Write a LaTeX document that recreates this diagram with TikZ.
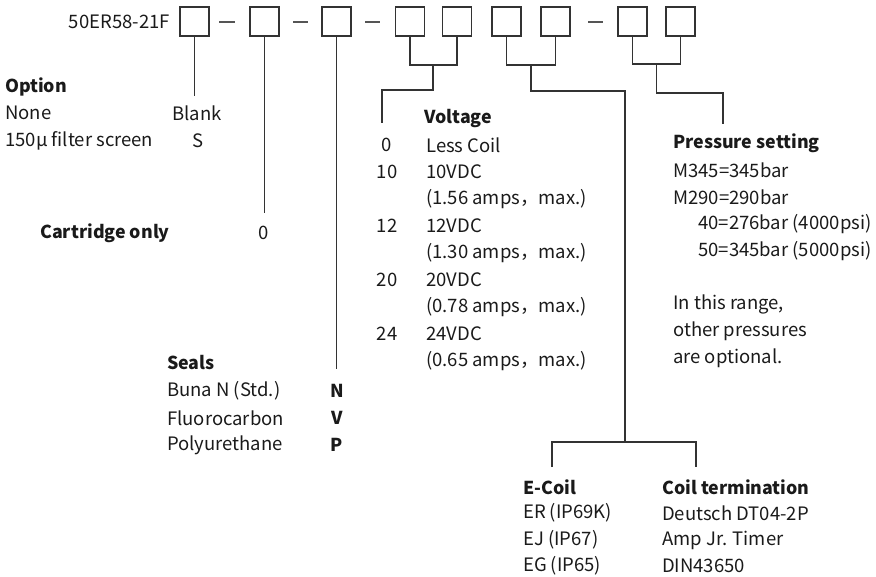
\documentclass[tikz,border=0pt]{standalone}
\usepackage{fontspec}
\setmainfont{Noto Sans CJK SC}
\begin{document}
\begin{tikzpicture}[x=1pt,y=-1pt,
  box/.style={draw=linec,line width=1.4pt,minimum size=29pt,inner sep=0pt},
  conn/.style={draw=linec,line width=1.3pt},
  dashln/.style={draw=dashc,line width=1.8pt},
  txt/.style={anchor=west,inner sep=0pt,text=txtc,font=\fontsize{18.5}{20}\selectfont},
  txtc/.style={anchor=center,inner sep=0pt,text=txtc,font=\fontsize{18.5}{20}\selectfont},
  hd/.style={txt,font=\fontsize{17.8}{20}\selectfont\bfseries},
  hdc/.style={txtc,font=\fontsize{17.8}{20}\selectfont\bfseries}]
\definecolor{linec}{HTML}{333333}
\definecolor{dashc}{HTML}{555555}
\definecolor{txtc}{HTML}{1A1A1A}
\useasboundingbox (0,0) rectangle (876,577);
% boxes
\node[box] (b1) at (194.5,21.5) {};
\node[box] (b2) at (264.5,21.5) {};
\node[box] (b3) at (336.5,21.5) {};
\node[box] (b4) at (410,21.5) {};
\node[box] (b5) at (457,21.5) {};
\node[box] (b6) at (506.5,21.5) {};
\node[box] (b7) at (555.5,21.5) {};
\node[box] (b8) at (632.5,21.5) {};
\node[box] (b9) at (680.5,21.5) {};
\node[anchor=east,inner sep=0pt,text=txtc,font=\fontsize{18.5}{20}\selectfont] (code) at (170,22) {50ER58-21F};
% dashes
\draw[dashln] (219,22) -- (235,22);
\draw[dashln] (293,22) -- (308,22);
\draw[dashln] (365,22) -- (380,22);
\draw[dashln] (588,22) -- (603,22);
% connector end coordinates
\coordinate (e1) at (194.5,96);
\coordinate (e2) at (264.5,213);
\coordinate (e3) at (336.5,369);
\coordinate (j45) at (433,65);
\coordinate (k45) at (433,90);
\coordinate (l45) at (382,90);
\coordinate (e45) at (382,123);
\coordinate (j67) at (531,65);
\coordinate (k67) at (531,91);
\coordinate (l67) at (625,91);
\coordinate (s67) at (625,442);
\coordinate (sl) at (552,442);
\coordinate (sr) at (696,442);
\coordinate (el) at (552,467);
\coordinate (er) at (696,467);
\coordinate (j89) at (656.5,64);
\coordinate (k89) at (656.5,93);
\coordinate (l89) at (723,93);
\coordinate (e89) at (723,124);
% connectors
\draw[conn] (b1.south) -- (e1);
\draw[conn] (b2.south) -- (e2);
\draw[conn] (b3.south) -- (e3);
\draw[conn] (b4.south) -- (b4.south |- j45) -- (b5.south |- j45) -- (b5.south);
\draw[conn] (j45) -- (k45) -- (l45) -- (e45);
\draw[conn] (b6.south) -- (b6.south |- j67) -- (b7.south |- j67) -- (b7.south);
\draw[conn] (j67) -- (k67) -- (l67) -- (s67);
\draw[conn] (el) -- (sl) -- (sr) -- (er);
\draw[conn] (b8.south) -- (b8.south |- j89) -- (b9.south |- j89) -- (b9.south);
\draw[conn] (j89) -- (k89) -- (l89) -- (e89);
% Option
\node[hd] (opt) at (5,87) {Option};
\node[txt] (none) at (5,113) {None};
\node[txtc] (blank) at (197,113) {Blank};
\node[txt] (filt) at (5,141) {150µ filter screen};
\node[txtc] (s) at (198,141) {S};
% Cartridge
\node[hd] (cart) at (40,233) {Cartridge only};
\node[txtc] (zero) at (264,233) {0};
% Voltage
\node[hd] (volt) at (424,119) {Voltage};
\node[txtc] (v0) at (387,145) {0};
\node[txt] (v0t) at (426,145) {Less Coil};
\node[txtc] (v10) at (387,172) {10};
\node[txt] (v10t) at (426,172) {10VDC};
\node[txt] (v10a) at (426,199) {(1.56 amps，max.)};
\node[txtc] (v12) at (387,226) {12};
\node[txt] (v12t) at (426,226) {12VDC};
\node[txt] (v12a) at (426,253) {(1.30 amps，max.)};
\node[txtc] (v20) at (387,280) {20};
\node[txt] (v20t) at (426,280) {20VDC};
\node[txt] (v20a) at (426,307) {(0.78 amps，max.)};
\node[txtc] (v24) at (387,334) {24};
\node[txt] (v24t) at (426,334) {24VDC};
\node[txt] (v24a) at (426,361) {(0.65 amps，max.)};
% Pressure
\node[hd] (pres) at (673,143) {Pressure setting};
\node[txt] (p1) at (673,170) {M345=345bar};
\node[txt] (p2) at (673,197) {M290=290bar};
\node[txt] (p3) at (698,224) {40=276bar (4000psi)};
\node[txt] (p4) at (698,251) {50=345bar (5000psi)};
\node[txt] (p5) at (673,304) {In this range,};
\node[txt] (p6) at (673,331) {other pressures};
\node[txt] (p7) at (673,358) {are optional.};
% Seals
\node[hd] (seals) at (167,363) {Seals};
\node[txt] (s1) at (167,391) {Buna N (Std.)};
\node[hdc] (sn) at (337,391) {N};
\node[txt] (s2) at (167,418) {Fluorocarbon};
\node[hdc] (sv) at (337,418) {V};
\node[txt] (s3) at (167,445) {Polyurethane};
\node[hdc] (sp) at (337,445) {P};
% E-Coil
\node[hd] (ecoil) at (523,487) {E-Coil};
\node[txt] (ec1) at (523,513) {ER (IP69K)};
\node[txt] (ec2) at (523,540) {EJ (IP67)};
\node[txt] (ec3) at (523,566) {EG (IP65)};
% Coil termination
\node[hd] (ct) at (662,487) {Coil termination};
\node[txt] (ct1) at (662,513) {Deutsch DT04-2P};
\node[txt] (ct2) at (662,540) {Amp Jr. Timer};
\node[txt] (ct3) at (662,566) {DIN43650};
\end{tikzpicture}
\end{document}
